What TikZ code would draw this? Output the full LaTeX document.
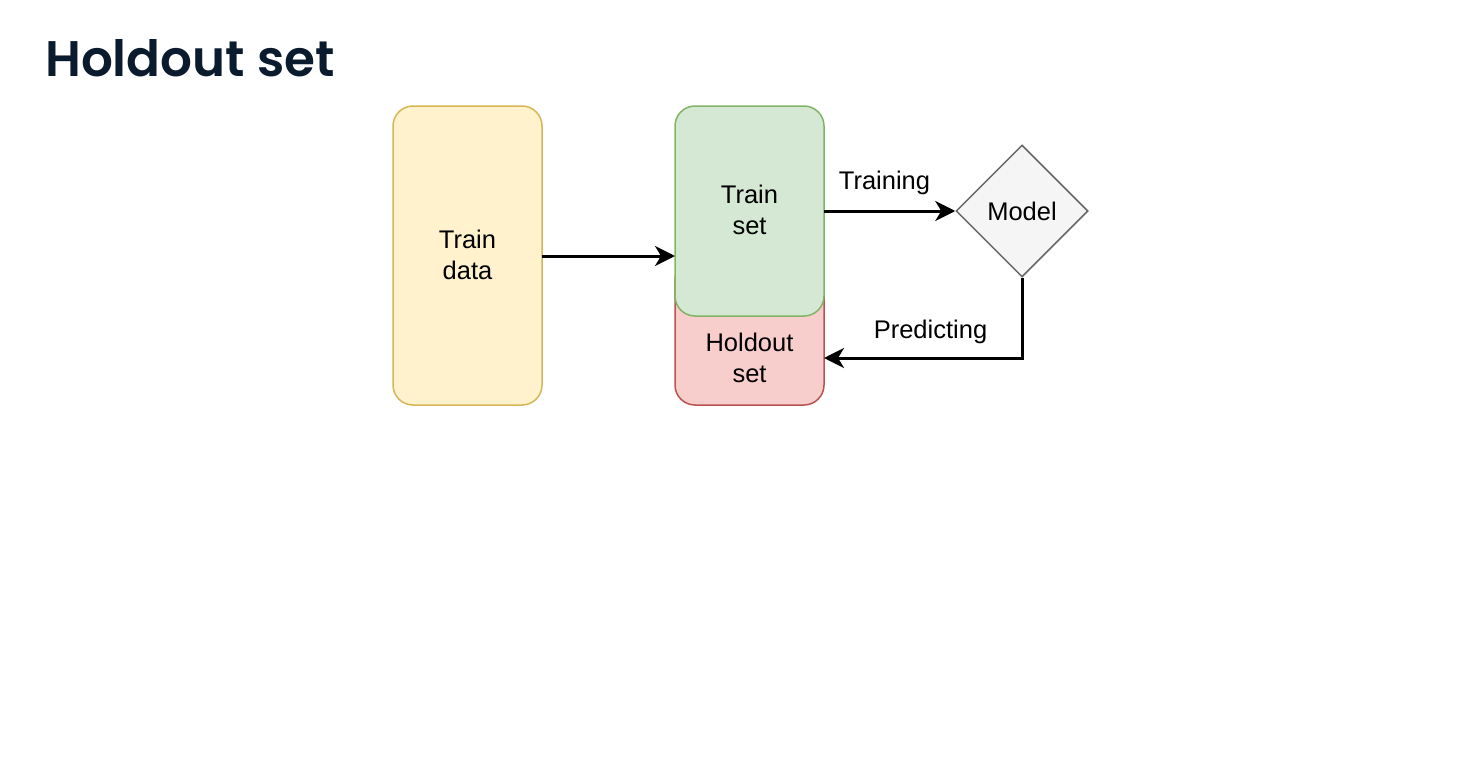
\documentclass[tikz,border=0pt]{standalone}
\usepackage{fontspec}
\setmainfont{Liberation Sans}
\newfontfamily\titlefont{Poppins SemiBold}
\usetikzlibrary{shapes.geometric,arrows.meta}
\definecolor{ttl}{HTML}{0B1B2E}
\definecolor{ylwfill}{HTML}{FFF2CC}
\definecolor{ylwline}{HTML}{D6B656}
\definecolor{grnfill}{HTML}{D5E8D4}
\definecolor{grnline}{HTML}{82B366}
\definecolor{redfill}{HTML}{F8CECC}
\definecolor{redline}{HTML}{B85450}
\definecolor{gryfill}{HTML}{F5F5F5}
\definecolor{gryline}{HTML}{666666}
\tikzset{
  box/.style={draw, line width=1.5pt, rounded corners=20pt},
  lbl/.style={font=\fontsize{25.5}{31}\selectfont, align=center, text=black},
  conn/.style={line width=3pt, -{Stealth[length=20pt,width=20pt,inset=6pt]}},
}
\begin{document}
\begin{tikzpicture}[x=1pt,y=-1pt]
\useasboundingbox (0,0) rectangle (1480,760);
\node[anchor=base west, inner sep=0pt, text=ttl, font=\titlefont\fontsize{50}{60}\selectfont] (title) at (45,77) {Holdout set};
% boxes
\draw[box, fill=ylwfill, draw=ylwline] (393,106) rectangle (542,405);
\coordinate (tdE) at (542,256);
\node[lbl] (td) at (467.5,255) {Train\\data};
\draw[box, fill=redfill, draw=redline] (675,260) rectangle (824,405);
\draw[box, fill=grnfill, draw=grnline] (675,106) rectangle (824,316);
\coordinate (tsW) at (675,256);
\coordinate (tsE) at (824,211);
\coordinate (hoE) at (824,358);
\node[lbl] (ts) at (749.5,210) {Train\\set};
\node[lbl] (ho) at (749.5,358) {Holdout\\set};
\node[diamond, draw=gryline, fill=gryfill, line width=1.5pt, minimum width=132pt, minimum height=132pt, inner sep=0pt, lbl] (model) at (1022,211) {Model};
\coordinate (bend) at (1022,358);
% connectors
\draw[conn] (tdE) -- (tsW);
\draw[conn] (tsE) -- (model.west);
\draw[conn] (model.south) -- (bend) -- (hoE);
\node[lbl] (training) at (884.5,183) {Training};
\node[lbl] (predicting) at (930.5,332) {Predicting};
\end{tikzpicture}
\end{document}
